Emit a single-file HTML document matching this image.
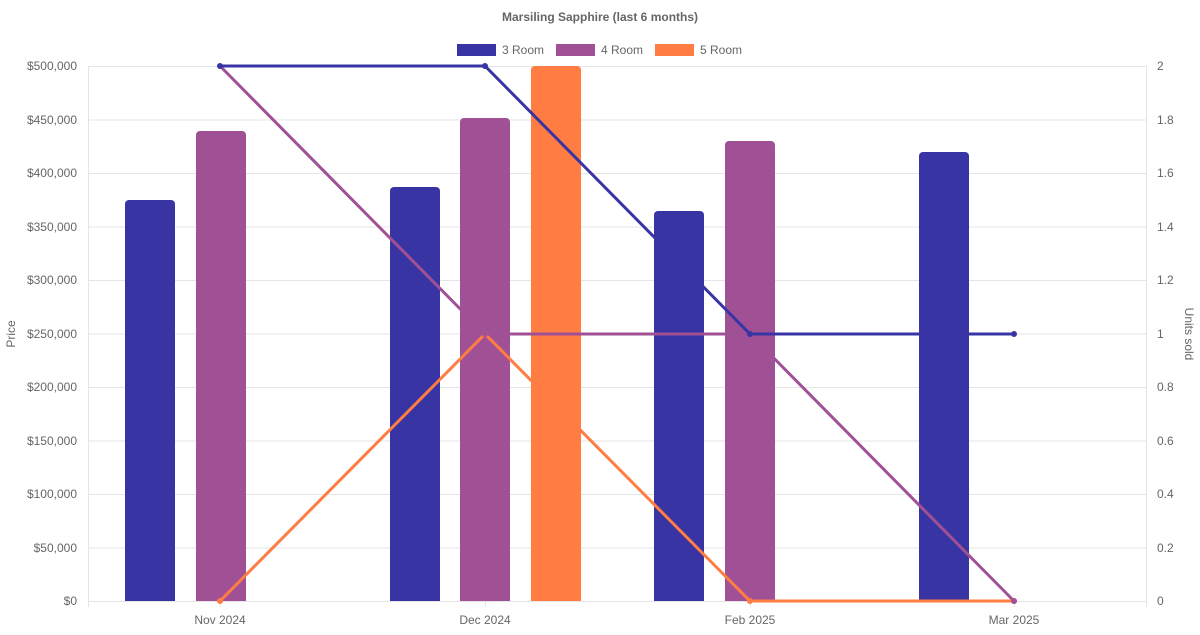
<!DOCTYPE html>
<html><head><meta charset="utf-8"><style>html,body{margin:0;padding:0;background:#fff}</style></head><body>
<svg width="1200" height="630" xmlns="http://www.w3.org/2000/svg" font-family="Liberation Sans, sans-serif">
<text x="600" y="21" text-anchor="middle" font-size="12" font-weight="bold" fill="#666">Marsiling Sapphire (last 6 months)</text>
<rect x="457" y="44" width="39" height="12" fill="#3834a3"/><text x="502" y="54" font-size="12" fill="#666">3 Room</text>
<rect x="556" y="44" width="39" height="12" fill="#a05195"/><text x="601" y="54" font-size="12" fill="#666">4 Room</text>
<rect x="655" y="44" width="39" height="12" fill="#ff7c43"/><text x="700" y="54" font-size="12" fill="#666">5 Room</text>
<g stroke="#e5e5e5" stroke-width="1">
<line x1="88" x2="1146" y1="66.5" y2="66.5"/><line x1="88" x2="1146" y1="120" y2="120"/><line x1="88" x2="1146" y1="173.5" y2="173.5"/><line x1="88" x2="1146" y1="227" y2="227"/><line x1="88" x2="1146" y1="280.5" y2="280.5"/><line x1="88" x2="1146" y1="334" y2="334"/><line x1="88" x2="1146" y1="387.5" y2="387.5"/><line x1="88" x2="1146" y1="441" y2="441"/><line x1="88" x2="1146" y1="494.5" y2="494.5"/><line x1="88" x2="1146" y1="548" y2="548"/><line x1="88" x2="1146" y1="601.5" y2="601.5"/>
<line x1="88.5" x2="88.5" y1="66" y2="607"/><line x1="1146.5" x2="1146.5" y1="66" y2="607"/>
<line x1="220.5" x2="220.5" y1="601" y2="607"/><line x1="485.5" x2="485.5" y1="601" y2="607"/><line x1="750.5" x2="750.5" y1="601" y2="607"/><line x1="1014.5" x2="1014.5" y1="601" y2="607"/>
</g>
<g font-size="12" fill="#666" text-anchor="end">
<text x="77" y="70">$500,000</text><text x="77" y="124">$450,000</text><text x="77" y="177">$400,000</text><text x="77" y="231">$350,000</text><text x="77" y="284">$300,000</text><text x="77" y="338">$250,000</text><text x="77" y="391">$200,000</text><text x="77" y="445">$150,000</text><text x="77" y="498">$100,000</text><text x="77" y="552">$50,000</text><text x="77" y="605">$0</text>
</g>
<g font-size="12" fill="#666">
<text x="1157" y="70">2</text><text x="1157" y="124">1.8</text><text x="1157" y="177">1.6</text><text x="1157" y="231">1.4</text><text x="1157" y="284">1.2</text><text x="1157" y="338">1</text><text x="1157" y="391">0.8</text><text x="1157" y="445">0.6</text><text x="1157" y="498">0.4</text><text x="1157" y="552">0.2</text><text x="1157" y="605">0</text>
</g>
<g font-size="12" fill="#666" text-anchor="middle">
<text x="220" y="624">Nov 2024</text><text x="485" y="624">Dec 2024</text><text x="750" y="624">Feb 2025</text><text x="1014" y="624">Mar 2025</text>
</g>
<text transform="translate(15,334) rotate(-90)" text-anchor="middle" font-size="12" fill="#666">Price</text>
<text transform="translate(1185,334) rotate(90)" text-anchor="middle" font-size="12" fill="#666">Units sold</text>
<g fill="#3834a3">
<path d="M125 601V204a4 4 0 0 1 4-4h42a4 4 0 0 1 4 4V601z"/>
<path d="M390 601V191a4 4 0 0 1 4-4h42a4 4 0 0 1 4 4V601z"/>
<path d="M654 601V215a4 4 0 0 1 4-4h42a4 4 0 0 1 4 4V601z"/>
<path d="M919 601V156a4 4 0 0 1 4-4h42a4 4 0 0 1 4 4V601z"/>
</g>
<g fill="#a05195">
<path d="M196 601V135a4 4 0 0 1 4-4h42a4 4 0 0 1 4 4V601z"/>
<path d="M460 601V122a4 4 0 0 1 4-4h42a4 4 0 0 1 4 4V601z"/>
<path d="M725 601V145a4 4 0 0 1 4-4h42a4 4 0 0 1 4 4V601z"/>
</g>
<path fill="#ff7c43" d="M531 601V70a4 4 0 0 1 4-4h42a4 4 0 0 1 4 4V601z"/>
<g fill="none" stroke-width="3">
<polyline stroke="#ff7c43" points="220,601 485,334 750,601 1014,601"/>
<polyline stroke="#a05195" points="220,66 485,334 750,334 1014,601"/>
<polyline stroke="#3834a3" points="220,66 485,66 750,334 1014,334"/>
</g>
<g>
<circle cx="220" cy="601" r="3" fill="#ff7c43"/><circle cx="485" cy="334" r="3" fill="#ff7c43"/><circle cx="750" cy="601" r="3" fill="#ff7c43"/><circle cx="1014" cy="601" r="3" fill="#ff7c43"/>
<circle cx="485" cy="334" r="3" fill="#a05195"/><circle cx="750" cy="334" r="3" fill="#a05195"/><circle cx="1014" cy="601" r="3" fill="#a05195"/>
<circle cx="220" cy="66" r="3" fill="#3834a3"/><circle cx="485" cy="66" r="3" fill="#3834a3"/><circle cx="750" cy="334" r="3" fill="#3834a3"/><circle cx="1014" cy="334" r="3" fill="#3834a3"/>
</g>
</svg>
</body></html>
